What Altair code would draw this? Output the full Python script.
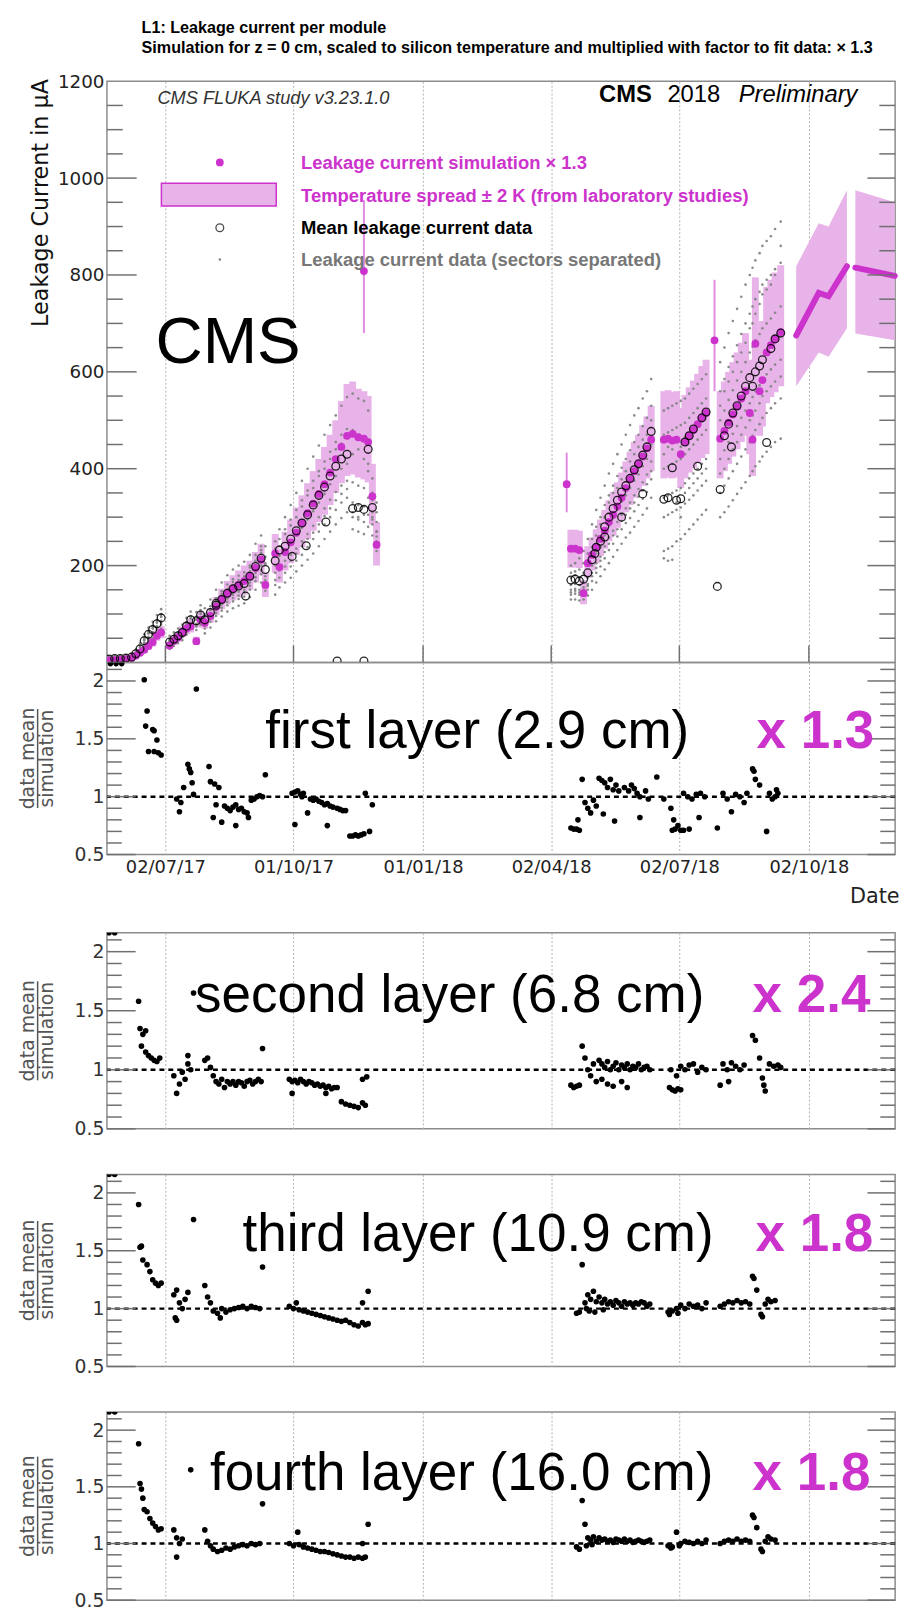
import altair as alt
import pandas as pd

# ---------------------------------------------------------------- data
TICK_DATES = ["2017-07-02", "2017-10-01", "2018-01-01", "2018-04-02", "2018-07-02", "2018-10-02"]
X_START = "2017-05-21T12"
X_END = "2018-12-02T06"

DATES = [
    "2017-05-23", "2017-05-27", "2017-05-31", "2017-06-04", "2017-06-08", "2017-06-11", "2017-06-14", "2017-06-17", "2017-06-20", "2017-06-23", "2017-06-26", "2017-06-29",
    "2017-07-05", "2017-07-08", "2017-07-11", "2017-07-14", "2017-07-17", "2017-07-20", "2017-07-24", "2017-07-27",
    "2017-07-30", "2017-08-03", "2017-08-07", "2017-08-11", "2017-08-15", "2017-08-19", "2017-08-23", "2017-08-27", "2017-08-31", "2017-09-04", "2017-09-08", "2017-09-11",
    "2017-09-18", "2017-09-21", "2017-09-25", "2017-09-29", "2017-10-03", "2017-10-07", "2017-10-11", "2017-10-15", "2017-10-19", "2017-10-23", "2017-10-27", "2017-10-31", "2017-11-04", "2017-11-08", "2017-11-12", "2017-11-16", "2017-11-20", "2017-11-23", "2017-11-26", "2017-11-29",
    "2018-04-16", "2018-04-19", "2018-04-22", "2018-04-25", "2018-04-28", "2018-05-01", "2018-05-04", "2018-05-07", "2018-05-10", "2018-05-13", "2018-05-16", "2018-05-19", "2018-05-22", "2018-05-25", "2018-05-28", "2018-05-31", "2018-06-03", "2018-06-06", "2018-06-09", "2018-06-12",
    "2018-06-21", "2018-06-24", "2018-06-27", "2018-06-30", "2018-07-03", "2018-07-06", "2018-07-09", "2018-07-12", "2018-07-15", "2018-07-18", "2018-07-21",
    "2018-07-31", "2018-08-03", "2018-08-06", "2018-08-09", "2018-08-12", "2018-08-15", "2018-08-18", "2018-08-21", "2018-08-23", "2018-08-25", "2018-08-28", "2018-08-30", "2018-09-02", "2018-09-05", "2018-09-08", "2018-09-12",
]
SIM = [
    4, 5, 6, 7, 9, 14, 20, 26, 34, 42, 55, 62,
    35, 45, 52, 62, 70, 75, 44, 88,
    82, 96, 115, 130, 142, 152, 160, 168, 178, 195, 212, 160,
    225, 197, 228, 248, 268, 288, 308, 328, 348, 368, 392, 420, 445, 468, 472, 465, 462, 455, 343, 243,
    235, 235, 232, 143, 205, 222, 238, 255, 272, 290, 305, 322, 340, 360, 378, 395, 410, 425, 442, 460,
    460, 462, 458, 460, 430, 455, 468, 480, 492, 505, 515,
    462, 478, 495, 512, 528, 545, 560, 515, 460, 658, 560, 583, 640, 655, 668, 682,
]
MEAN = [
    7, 8, 8, 9, 11, 18, 28, 45, 58, 68, 80, 92,
    42, 48, 55, 62, 75, 88, 86, 98,
    88, 103, 118, 130, 143, 152, 158, 163, 178, 198, 215, 192,
    210, 232, 240, 255, 272, 288, 305, 325, 345, 362, 385, 405, 420, 430, 318, 320, 316, 440, 320, None,
    170, 172, 168, 172, 185, 212, 238, 250, 280, 300, 318, 335, 352, 365, 380, 398, 410, 428, 445, 477,
    337, 340, 402, 335, 338, 455, 468, 482, 405, 505, 517,
    357, 468, 492, 515, 530, 550, 570, 588, 570, 600, 612, 625, 454, 648, 668, 680,
]
LO = [
    2, 3, 4, 5, 6, 10, 15, 20, 27, 33, 45, 50,
    28, 36, 43, 52, 58, 62, 36, 72,
    70, 82, 98, 110, 120, 128, 134, 140, 150, 165, 180, 135,
    185, 165, 190, 205, 222, 238, 255, 272, 290, 305, 325, 350, 370, 385, 388, 382, 378, 372, 285, 200,
    196, 196, 195, 120, 175, 190, 205, 220, 235, 250, 262, 278, 292, 310, 325, 340, 352, 365, 380, 395,
    380, 382, 380, 382, 360, 380, 392, 402, 412, 422, 430,
    380, 395, 410, 425, 440, 455, 468, 430, 385, 550, 468, 487, 535, 548, 558, 570,
]
HI = [
    6, 7, 8, 9, 12, 18, 25, 32, 42, 52, 66, 75,
    42, 54, 62, 74, 84, 90, 53, 105,
    95, 112, 135, 152, 168, 180, 190, 200, 210, 228, 245, 185,
    265, 235, 270, 295, 320, 345, 370, 395, 420, 445, 470, 500, 540, 575, 580, 565, 560, 550, 410, 290,
    274, 274, 272, 170, 240, 258, 275, 295, 315, 335, 352, 372, 392, 415, 435, 455, 470, 490, 508, 530,
    560, 562, 558, 560, 525, 552, 568, 582, 596, 612, 625,
    560, 580, 600, 620, 640, 660, 680, 625, 560, 795, 680, 705, 775, 790, 805, 820,
]
# leakage current data, sectors separated (grey dots), one list per sector
G1 = [12, 13, 14, 15, 18, 27, 40, 58, 72, 84, 98, 110,
      55, 62, 70, 78, 92, 105, 104, 118,
      112, 130, 150, 165, 180, 192, 200, 208, 222, 245, 262, 240,
      250, 275, 300, 325, 350, 375, 400, 425, 448, 470, 490, 510, 530, 548, 555, 545, 540, 520, 380, 330,
      200, 205, 215, 230, 255, 285, 315, 340, 365, 390, 410, 430, 450, 470, 490, 510, 525, 545, 560, 585,
      520, 525, 530, 535, 540, 545, 555, 565, 575, 585, 595,
      620, 650, 680, 705, 730, 755, 780, 800, 815, 830, 845, 860, 870, 880, 895, 910]
G2 = [9, 10, 11, 12, 14, 22, 33, 50, 64, 75, 88, 100,
      48, 55, 62, 70, 83, 96, 95, 108,
      100, 116, 133, 147, 161, 172, 179, 186, 200, 222, 240, 218,
      235, 255, 275, 295, 315, 335, 355, 375, 395, 415, 435, 455, 470, 482, 480, 470, 465, 460, 350, 310,
      185, 188, 192, 205, 225, 255, 280, 300, 325, 345, 365, 385, 402, 420, 438, 455, 470, 488, 505, 530,
      470, 475, 480, 485, 490, 495, 505, 515, 525, 535, 545,
      560, 585, 610, 632, 655, 678, 700, 720, 735, 750, 765, 780, 790, 800, 812, 825]
G3 = [6, 7, 7, 8, 10, 16, 25, 41, 53, 63, 75, 86,
      38, 44, 51, 58, 70, 82, 80, 92,
      80, 94, 108, 120, 132, 140, 146, 150, 165, 185, 200, 178,
      200, 220, 230, 245, 262, 278, 295, 312, 330, 348, 368, 385, 400, 410, 372, 365, 360, 395, 335, 290,
      160, 162, 160, 165, 175, 200, 225, 238, 262, 282, 298, 315, 332, 345, 360, 375, 388, 405, 420, 450,
      400, 405, 410, 415, 420, 430, 440, 450, 460, 470, 480,
      500, 520, 542, 562, 582, 600, 620, 640, 652, 665, 678, 690, 700, 710, 722, 735]
G4 = [4, 5, 5, 6, 8, 13, 21, 36, 47, 57, 68, 78,
      33, 39, 45, 52, 64, 75, 74, 85,
      70, 84, 96, 107, 118, 126, 131, 136, 150, 168, 182, 162,
      185, 200, 210, 222, 235, 250, 265, 282, 300, 318, 336, 352, 365, 375, 330, 325, 322, 340, 310, 270,
      150, 152, 150, 155, 162, 185, 205, 218, 240, 258, 272, 290, 305, 318, 330, 345, 358, 372, 388, 415,
      340, 345, 350, 355, 360, 370, 380, 390, 400, 410, 420,
      420, 438, 455, 472, 488, 505, 520, 535, 548, 560, 572, 585, 595, 605, 615, 625]
G5 = [3, 3, 4, 4, 6, 10, 17, 31, 42, 50, 60, 70,
      28, 34, 40, 46, 57, 68, 67, 78,
      60, 72, 85, 95, 105, 112, 117, 122, 135, 150, 165, 148,
      160, 175, 185, 198, 210, 222, 238, 255, 270, 285, 300, 315, 330, 340, 300, 295, 290, 305, 285, 250,
      140, 142, 140, 142, 150, 168, 185, 198, 215, 232, 245, 260, 275, 288, 298, 312, 325, 338, 352, 378,
      300, 305, 310, 315, 320, 328, 336, 345, 355, 365, 375,
      350, 365, 380, 395, 410, 425, 440, 455, 468, 480, 492, 505, 515, 525, 535, 545]
G6 = [10, 11, 10, 11, 13, 20, 30, 47, 61, 71, 84, 96,
      45, 51, 58, 66, 79, 92, 90, 102,
      92, 108, 124, 137, 150, 160, 166, 172, 188, 208, 226, 202,
      140, 155, 165, 175, 188, 200, 212, 225, 240, 255, 270, 285, 298, 310, 275, 270, 265, 280, 262, 230,
      130, 130, 128, 130, 138, 150, 165, 178, 192, 205, 218, 232, 245, 258, 268, 280, 292, 305, 318, 340,
      215, 210, 212, 250, 255, 265, 275, 285, 295, 305, 315,
      300, 310, 322, 335, 348, 360, 372, 385, 395, 405, 415, 425, 435, 445, 455, 462]
G7 = [8, 9, 12, 10, 12, 19, 31, 46, 60, 70, 82, 94,
      44, 50, 60, 64, 80, 90, 88, 100,
      96, 110, 128, 141, 150, 166, 170, 178, 196, 210, 232, 205,
      228, 240, 265, 283, 300, 322, 345, 360, 385, 400, 420, 440, 452, 465, 430, 440, 420, 410, 300, 270,
      175, 180, 176, 185, 200, 238, 262, 285, 300, 330, 350, 360, 378, 395, 415, 430, 445, 460, 470, 500,
      430, 445, 440, 455, 445, 465, 470, 480, 490, 500, 520,
      530, 560, 580, 600, 620, 640, 660, 690, 700, 720, 740, 760, 770, 780, 800, 860]
G8 = [5, 6, 6, 7, 9, 14, 24, 38, 50, 60, 72, 82,
      36, 42, 48, 55, 68, 78, 77, 88,
      76, 90, 102, 113, 125, 133, 138, 145, 158, 176, 190, 170,
      170, 190, 198, 210, 225, 240, 255, 268, 285, 302, 318, 335, 348, 358, 310, 300, 305, 320, 295, 260,
      145, 148, 145, 150, 158, 178, 195, 210, 228, 245, 262, 275, 292, 305, 318, 330, 342, 355, 368, 395,
      230, 235, 240, 330, 300, 350, 360, 370, 380, 390, 400,
      390, 400, 420, 440, 455, 470, 485, 500, 510, 520, 535, 550, 560, 570, 580, 590]

ISO_DATES = ["2017-11-20", "2018-04-13", "2018-07-27"]
ISO_SIM = [808, 368, 665]
ISO_LO = [680, 310, 560]
ISO_HI = [955, 433, 790]

MEAN2_DATES = ["2017-08-07", "2017-08-28", "2017-09-30", "2017-10-10", "2017-10-24", "2017-11-01", "2017-11-20",
               "2018-05-03", "2018-05-10", "2018-05-22", "2018-06-06", "2018-07-29", "2018-08-08"]
MEAN2 = [122, 137, 219, 241, 290, 3, 3, 225, 259, 300, 348, 157, 445]

P_DATES = ["2018-09-23", "2018-10-09", "2018-10-16", "2018-10-29", "2018-11-04", "2018-12-02"]
P_VAL = [675, 763, 756, 818, 815, 798]
P_LO = [570, 640, 631, 690, 679, 665]
P_HI = [818, 907, 900, 975, 975, 950]
P_PART = ["a", "a", "a", "a", "b", "b"]

MAIN_MAJOR = [200, 400, 600, 800, 1000]
MAIN_MINOR = [50, 100, 150, 250, 300, 350, 450, 500, 550, 650, 700, 750, 850, 900, 950, 1050, 1100, 1150]
R_MAJOR = [0.5, 1.0, 1.5, 2.0]
R_MINOR = [0.6, 0.7, 0.8, 0.9, 1.1, 1.2, 1.3, 1.4, 1.6, 1.7, 1.8, 1.9, 2.1]

R1 = [
    ("2017-05-24", 2.15), ("2017-05-28", 2.15), ("2017-06-01", 2.15),
    ("2017-06-17", 2.01), ("2017-06-19", 1.74), ("2017-06-18", 1.61), ("2017-06-23", 1.58), ("2017-06-24", 1.57), ("2017-06-26", 1.49),
    ("2017-06-20", 1.39), ("2017-06-24", 1.39), ("2017-06-27", 1.38), ("2017-06-29", 1.36),
    ("2017-07-24", 1.93), ("2017-07-18", 1.28), ("2017-07-19", 1.24), ("2017-07-20", 1.21), ("2017-07-21", 1.12), ("2017-07-15", 1.08),
    ("2017-07-10", 0.98), ("2017-07-13", 0.95), ("2017-07-12", 0.87), ("2017-07-22", 1.02),
    ("2017-08-02", 1.26), ("2017-08-03", 1.13), ("2017-08-06", 1.11), ("2017-08-09", 1.08), ("2017-08-07", 0.93), ("2017-08-05", 0.82), ("2017-08-11", 0.78),
    ("2017-08-13", 0.92), ("2017-08-15", 0.90), ("2017-08-17", 0.88), ("2017-08-19", 0.91), ("2017-08-21", 0.93), ("2017-08-23", 0.89), ("2017-08-25", 0.90), ("2017-08-27", 0.87), ("2017-08-29", 0.86),
    ("2017-08-21", 0.75), ("2017-08-30", 0.82),
    ("2017-09-01", 0.97), ("2017-09-03", 0.98), ("2017-09-05", 1.00), ("2017-09-07", 1.01), ("2017-09-09", 1.00), ("2017-09-11", 1.19),
    ("2017-09-30", 1.03), ("2017-10-02", 1.04), ("2017-10-04", 1.05), ("2017-10-06", 1.02), ("2017-10-07", 1.00), ("2017-10-08", 1.03), ("2017-10-02", 0.76), ("2017-10-11", 0.86),
    ("2017-10-13", 0.98), ("2017-10-15", 0.97), ("2017-10-17", 0.98), ("2017-10-19", 0.96), ("2017-10-21", 0.95), ("2017-10-23", 0.93), ("2017-10-25", 0.94), ("2017-10-27", 0.92), ("2017-10-29", 0.91), ("2017-10-25", 0.75),
    ("2017-11-01", 0.90), ("2017-11-03", 0.89), ("2017-11-05", 0.88), ("2017-11-07", 0.88),
    ("2017-11-10", 0.66), ("2017-11-12", 0.66), ("2017-11-14", 0.67), ("2017-11-16", 0.66), ("2017-11-18", 0.67), ("2017-11-20", 0.68),
    ("2017-11-21", 1.03), ("2017-11-24", 0.70), ("2017-11-26", 0.93),
    ("2018-04-16", 0.73), ("2018-04-18", 0.72), ("2018-04-20", 0.72), ("2018-04-22", 0.71), ("2018-04-21", 0.80), ("2018-04-24", 1.15),
    ("2018-04-26", 0.95), ("2018-04-28", 0.90), ("2018-04-30", 0.86), ("2018-05-02", 0.97), ("2018-05-04", 0.92),
    ("2018-05-06", 1.16), ("2018-05-08", 1.14), ("2018-05-10", 1.12), ("2018-05-12", 1.08), ("2018-05-14", 1.15), ("2018-05-16", 1.06), ("2018-05-18", 1.10), ("2018-05-20", 1.05),
    ("2018-05-09", 0.85), ("2018-05-17", 0.79),
    ("2018-05-24", 1.08), ("2018-05-27", 1.05), ("2018-05-29", 1.10), ("2018-05-31", 1.07), ("2018-06-02", 1.03), ("2018-06-04", 1.00), ("2018-06-08", 1.05), ("2018-06-10", 0.98), ("2018-06-04", 0.82), ("2018-06-16", 1.17), ("2018-06-21", 0.98),
    ("2018-06-26", 0.90), ("2018-06-28", 0.80), ("2018-07-01", 0.75), ("2018-07-03", 0.71), ("2018-06-27", 0.71), ("2018-06-29", 0.72), ("2018-07-05", 0.71), ("2018-07-09", 0.72),
    ("2018-07-05", 1.03), ("2018-07-08", 1.00), ("2018-07-11", 0.98), ("2018-07-14", 1.02), ("2018-07-17", 1.03), ("2018-07-20", 1.00), ("2018-07-16", 0.82),
    ("2018-07-29", 0.73),
    ("2018-08-02", 1.03), ("2018-08-05", 0.98), ("2018-08-08", 0.87), ("2018-08-11", 1.02), ("2018-08-14", 1.00), ("2018-08-17", 0.95), ("2018-08-19", 1.03),
    ("2018-08-23", 1.24), ("2018-08-24", 1.22), ("2018-08-25", 1.15), ("2018-08-28", 1.10), ("2018-09-02", 0.70),
    ("2018-09-04", 1.03), ("2018-09-06", 0.98), ("2018-09-08", 1.00), ("2018-09-09", 1.06), ("2018-09-10", 1.03),
]
R2 = [
    ("2017-05-23", 2.16), ("2017-05-27", 2.16),
    ("2017-06-13", 1.58), ("2017-06-14", 1.35), ("2017-06-16", 1.30), ("2017-06-18", 1.33),
    ("2017-06-15", 1.20), ("2017-06-18", 1.15), ("2017-06-20", 1.12), ("2017-06-22", 1.10), ("2017-06-24", 1.08), ("2017-06-26", 1.07), ("2017-06-28", 1.10),
    ("2017-07-08", 0.95), ("2017-07-10", 0.80), ("2017-07-12", 0.88), ("2017-07-14", 0.98), ("2017-07-16", 0.92), ("2017-07-18", 1.05), ("2017-07-20", 1.00), ("2017-07-18", 1.12),
    ("2017-07-22", 1.65),
    ("2017-07-30", 1.08), ("2017-08-01", 1.10), ("2017-08-03", 1.02), ("2017-08-05", 0.95),
    ("2017-08-07", 0.90), ("2017-08-09", 0.88), ("2017-08-11", 0.92), ("2017-08-13", 0.85), ("2017-08-15", 0.90), ("2017-08-17", 0.88), ("2017-08-19", 0.90), ("2017-08-21", 0.87), ("2017-08-23", 0.90), ("2017-08-25", 0.89), ("2017-08-27", 0.86), ("2017-08-29", 0.90), ("2017-08-31", 0.91), ("2017-09-02", 0.88), ("2017-09-04", 0.90), ("2017-09-06", 0.92), ("2017-09-08", 0.90),
    ("2017-09-09", 1.18),
    ("2017-09-28", 0.92), ("2017-09-30", 0.90), ("2017-10-02", 0.91), ("2017-10-04", 0.89), ("2017-10-06", 0.92), ("2017-10-08", 0.90), ("2017-10-10", 0.88), ("2017-10-12", 0.90), ("2017-10-14", 0.89), ("2017-10-16", 0.87), ("2017-10-18", 0.88), ("2017-10-20", 0.86), ("2017-10-22", 0.87), ("2017-10-24", 0.85), ("2017-10-26", 0.86), ("2017-10-28", 0.84), ("2017-10-30", 0.85), ("2017-11-01", 0.85),
    ("2017-09-30", 0.80), ("2017-10-24", 0.80),
    ("2017-11-04", 0.73), ("2017-11-07", 0.71), ("2017-11-10", 0.70), ("2017-11-13", 0.69), ("2017-11-16", 0.68), ("2017-11-19", 0.72), ("2017-11-21", 0.70),
    ("2017-11-19", 0.92), ("2017-11-22", 0.94),
    ("2018-04-16", 0.87), ("2018-04-18", 0.85), ("2018-04-20", 0.86), ("2018-04-22", 0.87), ("2018-04-24", 1.20),
    ("2018-04-26", 1.10), ("2018-04-28", 1.00), ("2018-04-30", 0.95), ("2018-05-02", 1.05), ("2018-05-04", 0.90),
    ("2018-05-06", 1.08), ("2018-05-08", 1.05), ("2018-05-10", 1.02), ("2018-05-12", 1.07), ("2018-05-14", 1.00), ("2018-05-16", 1.03), ("2018-05-18", 1.06), ("2018-05-20", 1.00), ("2018-05-22", 1.04), ("2018-05-24", 1.02), ("2018-05-26", 1.05), ("2018-05-28", 1.00), ("2018-05-30", 1.03), ("2018-06-01", 1.02), ("2018-06-03", 1.05), ("2018-06-05", 1.00), ("2018-06-07", 1.02), ("2018-06-09", 1.03), ("2018-06-11", 1.00),
    ("2018-05-08", 0.92), ("2018-05-12", 0.88), ("2018-05-16", 0.86), ("2018-05-22", 0.90), ("2018-05-26", 0.85),
    ("2018-06-25", 0.85), ("2018-06-27", 0.83), ("2018-06-29", 0.82), ("2018-07-01", 0.84), ("2018-07-03", 0.83),
    ("2018-06-26", 1.00), ("2018-06-30", 0.95), ("2018-07-03", 1.03), ("2018-07-06", 1.00), ("2018-07-09", 1.04), ("2018-07-12", 1.05), ("2018-07-15", 0.98), ("2018-07-18", 1.02), ("2018-07-21", 1.00),
    ("2018-07-31", 0.87),
    ("2018-08-02", 1.05), ("2018-08-05", 1.00), ("2018-08-08", 1.06), ("2018-08-11", 1.03), ("2018-08-14", 1.00), ("2018-08-17", 1.04), ("2018-08-06", 0.90),
    ("2018-08-23", 1.29), ("2018-08-25", 1.25), ("2018-08-28", 1.10), ("2018-08-30", 0.93), ("2018-08-31", 0.87), ("2018-09-01", 0.82),
    ("2018-09-04", 1.05), ("2018-09-07", 1.03), ("2018-09-10", 1.04), ("2018-09-12", 1.02),
]
R3 = [
    ("2017-05-23", 2.16), ("2017-05-27", 2.16),
    ("2017-06-13", 1.90), ("2017-06-14", 1.53), ("2017-06-15", 1.54),
    ("2017-06-16", 1.42), ("2017-06-19", 1.38), ("2017-06-21", 1.32), ("2017-06-23", 1.25), ("2017-06-25", 1.22), ("2017-06-27", 1.20), ("2017-06-29", 1.22),
    ("2017-07-08", 1.12), ("2017-07-10", 1.16), ("2017-07-12", 1.05), ("2017-07-14", 1.00), ("2017-07-16", 1.08), ("2017-07-18", 1.14),
    ("2017-07-09", 0.92), ("2017-07-10", 0.90),
    ("2017-07-22", 1.77),
    ("2017-07-30", 1.20), ("2017-08-01", 1.10), ("2017-08-03", 1.05),
    ("2017-08-05", 0.98), ("2017-08-08", 0.96), ("2017-08-11", 1.00), ("2017-08-14", 0.97), ("2017-08-17", 0.99), ("2017-08-20", 1.00), ("2017-08-23", 1.01), ("2017-08-26", 1.02), ("2017-08-29", 1.00), ("2017-09-01", 1.02), ("2017-09-04", 1.01), ("2017-09-07", 1.00),
    ("2017-08-10", 0.92), ("2017-09-09", 1.36),
    ("2017-09-28", 1.02), ("2017-10-01", 1.00), ("2017-10-03", 1.05), ("2017-10-05", 0.99), ("2017-10-08", 0.98), ("2017-10-11", 0.97), ("2017-10-14", 0.96), ("2017-10-17", 0.95), ("2017-10-20", 0.94), ("2017-10-23", 0.93), ("2017-10-26", 0.92), ("2017-10-29", 0.91), ("2017-11-01", 0.90), ("2017-11-04", 0.89), ("2017-11-07", 0.90), ("2017-11-10", 0.88), ("2017-11-13", 0.86), ("2017-11-16", 0.85), ("2017-11-19", 0.88), ("2017-11-21", 0.86), ("2017-11-23", 0.87),
    ("2017-11-19", 1.05), ("2017-11-23", 1.15),
    ("2018-04-20", 0.96), ("2018-04-22", 0.97), ("2018-04-24", 1.38),
    ("2018-04-26", 1.05), ("2018-04-28", 1.12), ("2018-04-30", 1.08), ("2018-05-02", 1.15), ("2018-05-04", 1.06), ("2018-05-06", 1.10), ("2018-05-08", 1.05), ("2018-05-10", 1.08), ("2018-05-12", 1.04), ("2018-05-14", 1.06), ("2018-05-16", 1.03), ("2018-05-18", 1.07), ("2018-05-20", 1.05), ("2018-05-22", 1.02), ("2018-05-24", 1.06), ("2018-05-26", 1.04), ("2018-05-28", 1.05), ("2018-05-30", 1.03), ("2018-06-01", 1.05), ("2018-06-03", 1.04), ("2018-06-05", 1.06), ("2018-06-07", 1.05), ("2018-06-09", 1.02), ("2018-06-11", 1.04),
    ("2018-04-27", 1.00), ("2018-04-29", 0.98), ("2018-05-03", 0.97), ("2018-05-09", 0.99),
    ("2018-06-24", 0.97), ("2018-06-27", 0.98), ("2018-06-30", 1.00), ("2018-07-03", 1.03), ("2018-07-06", 1.00), ("2018-07-09", 1.04), ("2018-07-12", 1.02), ("2018-07-15", 1.03), ("2018-07-18", 1.00), ("2018-07-21", 1.05),
    ("2018-06-25", 0.95), ("2018-07-01", 0.96),
    ("2018-07-31", 1.02), ("2018-08-03", 1.04), ("2018-08-06", 1.06), ("2018-08-09", 1.05), ("2018-08-12", 1.07), ("2018-08-15", 1.05), ("2018-08-18", 1.06), ("2018-08-21", 1.04),
    ("2018-08-23", 1.28), ("2018-08-24", 1.26), ("2018-08-26", 1.16), ("2018-08-29", 0.95), ("2018-08-30", 0.93),
    ("2018-09-01", 1.04), ("2018-09-03", 1.08), ("2018-09-05", 1.06), ("2018-09-08", 1.07),
]
R4 = [
    ("2017-05-23", 2.16), ("2017-05-27", 2.16),
    ("2017-06-13", 1.88), ("2017-06-14", 1.53), ("2017-06-15", 1.48), ("2017-06-16", 1.40),
    ("2017-06-17", 1.30), ("2017-06-19", 1.28), ("2017-06-21", 1.22), ("2017-06-23", 1.18), ("2017-06-25", 1.15), ("2017-06-27", 1.12), ("2017-06-29", 1.13),
    ("2017-07-08", 1.12), ("2017-07-10", 1.05), ("2017-07-12", 1.00), ("2017-07-14", 1.04), ("2017-07-10", 0.88),
    ("2017-07-20", 1.65),
    ("2017-07-30", 1.12), ("2017-08-01", 1.02), ("2017-08-03", 0.98),
    ("2017-08-05", 0.95), ("2017-08-08", 0.93), ("2017-08-11", 0.94), ("2017-08-14", 0.96), ("2017-08-17", 0.95), ("2017-08-20", 0.97), ("2017-08-23", 0.98), ("2017-08-26", 0.99), ("2017-08-29", 0.98), ("2017-09-01", 1.00), ("2017-09-04", 0.99), ("2017-09-07", 1.00),
    ("2017-09-09", 1.35),
    ("2017-09-28", 1.00), ("2017-10-01", 0.98), ("2017-10-04", 1.10), ("2017-10-05", 0.99), ("2017-10-08", 0.97), ("2017-10-11", 0.96), ("2017-10-14", 0.95), ("2017-10-17", 0.94), ("2017-10-20", 0.93), ("2017-10-23", 0.93), ("2017-10-26", 0.92), ("2017-10-29", 0.91), ("2017-11-01", 0.90), ("2017-11-04", 0.89), ("2017-11-07", 0.88), ("2017-11-10", 0.88), ("2017-11-13", 0.87), ("2017-11-16", 0.88), ("2017-11-19", 0.87), ("2017-11-21", 0.88),
    ("2017-11-19", 1.00), ("2017-11-23", 1.17),
    ("2018-04-20", 0.97), ("2018-04-22", 0.95), ("2018-04-24", 1.38), ("2018-04-26", 1.17),
    ("2018-04-28", 1.05), ("2018-04-30", 1.03), ("2018-05-02", 1.06), ("2018-05-04", 1.02), ("2018-05-06", 1.05), ("2018-05-08", 1.03), ("2018-05-10", 1.04), ("2018-05-12", 1.02), ("2018-05-14", 1.03), ("2018-05-16", 1.01), ("2018-05-18", 1.04), ("2018-05-20", 1.03), ("2018-05-22", 1.02), ("2018-05-24", 1.04), ("2018-05-26", 1.02), ("2018-05-28", 1.03), ("2018-05-30", 1.01), ("2018-06-01", 1.02), ("2018-06-03", 1.03), ("2018-06-05", 1.02), ("2018-06-07", 1.01), ("2018-06-09", 1.02), ("2018-06-11", 1.03),
    ("2018-04-27", 0.98), ("2018-05-01", 0.99),
    ("2018-06-24", 0.98), ("2018-06-27", 0.97), ("2018-06-30", 1.10), ("2018-07-03", 1.00), ("2018-07-06", 1.02), ("2018-07-09", 1.01), ("2018-07-12", 1.00), ("2018-07-15", 1.02), ("2018-07-18", 1.00), ("2018-07-21", 1.03),
    ("2018-06-26", 0.96), ("2018-07-02", 0.98),
    ("2018-07-31", 1.00), ("2018-08-03", 1.02), ("2018-08-06", 1.03), ("2018-08-09", 1.02), ("2018-08-12", 1.04), ("2018-08-15", 1.02), ("2018-08-18", 1.03), ("2018-08-21", 1.02),
    ("2018-08-23", 1.25), ("2018-08-24", 1.23), ("2018-08-26", 1.14), ("2018-08-29", 0.95), ("2018-08-30", 0.93),
    ("2018-09-01", 1.02), ("2018-09-03", 1.06), ("2018-09-05", 1.04), ("2018-09-08", 1.03),
]

SECTORS = [G1, G2, G3, G4, G5, G6, G7, G8]
for arr in [SIM, MEAN, LO, HI] + SECTORS:
    assert len(arr) == len(DATES), len(arr)

# ---------------------------------------------------------------- style
W = 796
MAIN_H = 587
LAB = "Liberation Sans"
DV = "DejaVu Sans"
MAG = "#cc33cc"
BAND = "#e8b3e8"
GRAY = "#858585"
FRAME = "#8c8c8c"
TICKC = "#707070"


def dt(s):
    d, _, h = s.partition("T")
    y, m, dd = (int(v) for v in d.split("-"))
    kw = dict(year=y, month=m, date=dd, utc=True)
    if h:
        kw["hours"] = int(h)
    return alt.DateTime(**kw)


XSCALE = alt.Scale(type="utc", domain=[dt(X_START), dt(X_END)])


def grid_axis(labels):
    kw = dict(values=[dt(s) for s in TICK_DATES], grid=True, gridColor="#b0b0b0",
              gridDash=[2, 2], gridWidth=1, ticks=False, domain=False)
    if labels:
        kw.update(labels=True, labelExpr="utcFormat(datum.value, '%d/%m/%y')", labelFont=DV,
                  labelFontSize=18, labelColor="#222222", labelPadding=4, labelFlush=False,
                  labelOverlap=False, titleFont=DV, titleFontSize=21, titleFontWeight="normal",
                  titleColor="#222222", titlePadding=9, titleX=W + 4, titleAlign="right")
    else:
        kw.update(labels=False)
    return alt.Axis(**kw)


def one():
    return pd.DataFrame({"k": [0]})


def txt(s, x, y, size, color="black", font=LAB, weight="normal", style="normal", align="left", angle=0):
    return alt.Chart(pd.DataFrame({"t": [s]})).mark_text(
        font=font, fontSize=size, fontWeight=weight, fontStyle=style, color=color,
        align=align, baseline="middle", angle=angle
    ).encode(text="t:N", x=alt.value(x), y=alt.value(y))


# ---------------------------------------------------------------- main panel
AXM = grid_axis(False)
YSC_MAIN = alt.Scale(domain=[0, 1200], nice=False, zero=False)
AY_MAIN = alt.Axis(values=[200, 400, 600, 800, 1000, 1200], format="d", ticks=False, domain=False,
                   grid=False, labelFont=DV, labelFontSize=18.5, labelColor="#222222", labelPadding=3,
                   labelFlush=False, labelOverlap=False, labelBound=False)


def XM():
    return alt.X("date:T", scale=XSCALE, axis=AXM, title=None)


def YM(f):
    return alt.Y(f + ":Q", scale=YSC_MAIN, axis=AY_MAIN, title=None)


main_df = pd.DataFrame({"date": DATES, "sim": SIM, "mean": MEAN, "lo": LO, "hi": HI})
gray_vals = []
for sec in SECTORS:
    gray_vals += sec
gray_df = pd.DataFrame({"date": DATES * len(SECTORS), "g": gray_vals})
iso_df = pd.DataFrame({"date": ISO_DATES, "sim": ISO_SIM, "lo": ISO_LO, "hi": ISO_HI})
mean2_df = pd.DataFrame({"date": MEAN2_DATES, "mean": MEAN2})
proj_df = pd.DataFrame({"date": P_DATES, "sim": P_VAL, "lo": P_LO, "hi": P_HI, "part": P_PART})

band = alt.Chart(main_df).mark_rule(color=BAND, strokeWidth=7, clip=True).encode(
    x=XM(), y=YM("lo"), y2=alt.Y2("hi:Q"))
iso_bar = alt.Chart(iso_df).mark_rule(color="#e28be2", strokeWidth=2).encode(
    x=XM(), y=YM("lo"), y2=alt.Y2("hi:Q"))
proj_band = alt.Chart(proj_df).mark_area(color=BAND, opacity=1).encode(
    x=XM(), y=YM("lo"), y2=alt.Y2("hi:Q"), detail="part:N")
gray = alt.Chart(gray_df).mark_circle(color=GRAY, size=7, opacity=0.95, clip=True).encode(
    x=XM(), y=YM("g"))
proj_line = alt.Chart(proj_df).mark_line(color=MAG, strokeWidth=6, strokeCap="round").encode(
    x=XM(), y=YM("sim"), detail="part:N")
sim_pts = alt.Chart(main_df).mark_circle(color=MAG, size=62, opacity=1, clip=True).encode(
    x=XM(), y=YM("sim"))
iso_pts = alt.Chart(iso_df).mark_circle(color=MAG, size=62, opacity=1).encode(x=XM(), y=YM("sim"))
mean_pts = alt.Chart(main_df).mark_point(shape="circle", filled=False, color="black", size=62,
                                         strokeWidth=1.3, opacity=0.85, clip=True).encode(
    x=XM(), y=YM("mean"))
mean2_pts = alt.Chart(mean2_df).mark_point(shape="circle", filled=False, color="black", size=62,
                                           strokeWidth=1.3, opacity=0.85, clip=True).encode(
    x=XM(), y=YM("mean"))


def yticks(values, yfun, x0, x1):
    return alt.Chart(pd.DataFrame({"v": values})).mark_rule(color=TICKC, strokeWidth=1.5).encode(
        y=yfun("v"), x=alt.value(x0), x2=alt.value(x1))


main_ticks = [
    yticks(MAIN_MAJOR, YM, 0, 30), yticks(MAIN_MINOR, YM, 0, 16),
    yticks(MAIN_MAJOR, YM, W - 28, W), yticks(MAIN_MINOR, YM, W - 16, W),
    alt.Chart(pd.DataFrame({"date": TICK_DATES})).mark_rule(color=TICKC, strokeWidth=1.5).encode(
        x=XM(), y=alt.value(MAIN_H), y2=alt.value(MAIN_H - 17)),
]

legend = [
    alt.Chart(one()).mark_circle(color=MAG, size=62, opacity=1).encode(x=alt.value(114), y=alt.value(82)),
    alt.Chart(one()).mark_rect(fill=BAND, stroke=MAG, strokeWidth=1.5).encode(
        x=alt.value(55), x2=alt.value(171), y=alt.value(103), y2=alt.value(126)),
    alt.Chart(one()).mark_point(shape="circle", filled=False, color="black", size=62, strokeWidth=1.3).encode(
        x=alt.value(114), y=alt.value(148)),
    alt.Chart(one()).mark_circle(color=GRAY, size=7, opacity=1).encode(x=alt.value(114), y=alt.value(180)),
    txt("Leakage current simulation \u00d7 1.3", 196, 83, 18.6, MAG, weight="bold"),
    txt("Temperature spread \u00b1 2 K (from laboratory studies)", 196, 116, 18.6, MAG, weight="bold"),
    txt("Mean leakage current data", 196, 148, 18.6, "black", weight="bold"),
    txt("Leakage current data (sectors separated)", 196, 181, 18.6, "#777777", weight="bold"),
]

main_texts = [
    txt("CMS FLUKA study v3.23.1.0", 51, 17, 18.4, "#333333", style="italic"),
    txt("CMS", 497, 14, 24, "black", weight="bold"),
    txt("2018", 566, 14, 24, "black"),
    txt("Preliminary", 638, 14, 24, "black", style="italic"),
    txt("CMS", 49, 265, 66, "black"),
    txt("Leakage Current in \u03bcA", -67, 123, 22.5, "#111111", font=DV, align="center", angle=270),
    txt("L1: Leakage current per module", 35, -54, 16.3, "black", weight="bold"),
    txt("Simulation for z = 0 cm, scaled to silicon temperature and multiplied with factor to fit data: \u00d7 1.3",
        35, -33, 16.3, "black", weight="bold"),
    # white anchor fixing the page origin
    alt.Chart(one()).mark_rule(strokeOpacity=1, strokeWidth=1, color="white").encode(
        x=alt.value(-106.5), x2=alt.value(W + 4.5), y=alt.value(-72.5), y2=alt.value(-72.5)),
]

main = alt.layer(band, iso_bar, proj_band, gray, proj_line, sim_pts, iso_pts, mean_pts, mean2_pts,
                 *main_ticks, *legend, *main_texts).properties(width=W, height=MAIN_H)

# ---------------------------------------------------------------- ratio panels
YSC_R = alt.Scale(domain=[0.5, 2.16], nice=False, zero=False)
AY_R = alt.Axis(values=R_MAJOR, format="~g", ticks=False, domain=False, grid=False, labelFont=DV,
                labelFontSize=19, labelColor="#333333", labelPadding=3, labelFlush=False,
                labelOverlap=False, labelBound=False)


def YR(f):
    return alt.Y(f + ":Q", scale=YSC_R, axis=AY_R, title=None)


def ratio_panel(pairs, h, label, lab_x, lab_y, factor, fac_x, show_labels):
    axis = grid_axis(show_labels)
    title = "Date" if show_labels else None
    df = pd.DataFrame({"date": [d for d, _ in pairs], "r": [v for _, v in pairs]})
    pts = alt.Chart(df).mark_circle(color="black", size=32, opacity=1, clip=True).encode(
        x=alt.X("date:T", scale=XSCALE, axis=axis, title=title), y=YR("r"))
    unity = alt.Chart(pd.DataFrame({"r": [1.0]})).mark_rule(
        color="black", strokeDash=[5, 4], strokeWidth=2.5).encode(y=YR("r"))
    ticks = [yticks(R_MAJOR, YR, 0, 29), yticks(R_MINOR, YR, 0, 15),
             yticks(R_MAJOR, YR, W - 28, W), yticks(R_MINOR, YR, W - 15, W)]
    cy = h / 2
    ytitle = [
        txt("data mean", -80, cy, 19, "#555555", font=DV, align="center", angle=270),
        txt("simulation", -60, cy, 19, "#555555", font=DV, align="center", angle=270),
        alt.Chart(one()).mark_rule(color="#555555", strokeWidth=1.5).encode(
            x=alt.value(-70), y=alt.value(cy - 50), y2=alt.value(cy + 50)),
    ]
    texts = [txt(label, lab_x, lab_y, 53.5, "black"),
             txt(factor, fac_x, lab_y, 53.5, MAG, weight="bold")]
    return alt.layer(unity, pts, *ticks, *ytitle, *texts).properties(width=W, height=h)


def spacer(h):
    return alt.Chart(one()).mark_point(opacity=0).encode(
        x=alt.X("k:Q", axis=None), y=alt.Y("k:Q", axis=None)
    ).properties(width=W, height=h, view=alt.ViewBackground(stroke="transparent"))


r1 = ratio_panel(R1, 194, "first layer (2.9 cm)", 160, 70, "x 1.3", 656, True)
r2 = ratio_panel(R2, 198, "second layer (6.8 cm)", 89, 64, "x 2.4", 652, False)
r3 = ratio_panel(R3, 194, "third layer (10.9 cm)", 137, 61, "x 1.8", 655, False)
r4 = ratio_panel(R4, 190, "fourth layer (16.0 cm)", 104, 63, "x 1.8", 652, False)

chart = alt.vconcat(main, r1, spacer(79), r2, spacer(46), r3, spacer(46), r4,
                    spacing=0, bounds="flush").properties(
    padding={"left": 0, "top": 0, "right": 0, "bottom": 0}, background="white"
).configure(padding=0, view=alt.ViewConfig(stroke=FRAME, strokeWidth=1.5))

chart.save("out.html", embed_options={"renderer": "svg", "actions": False})
